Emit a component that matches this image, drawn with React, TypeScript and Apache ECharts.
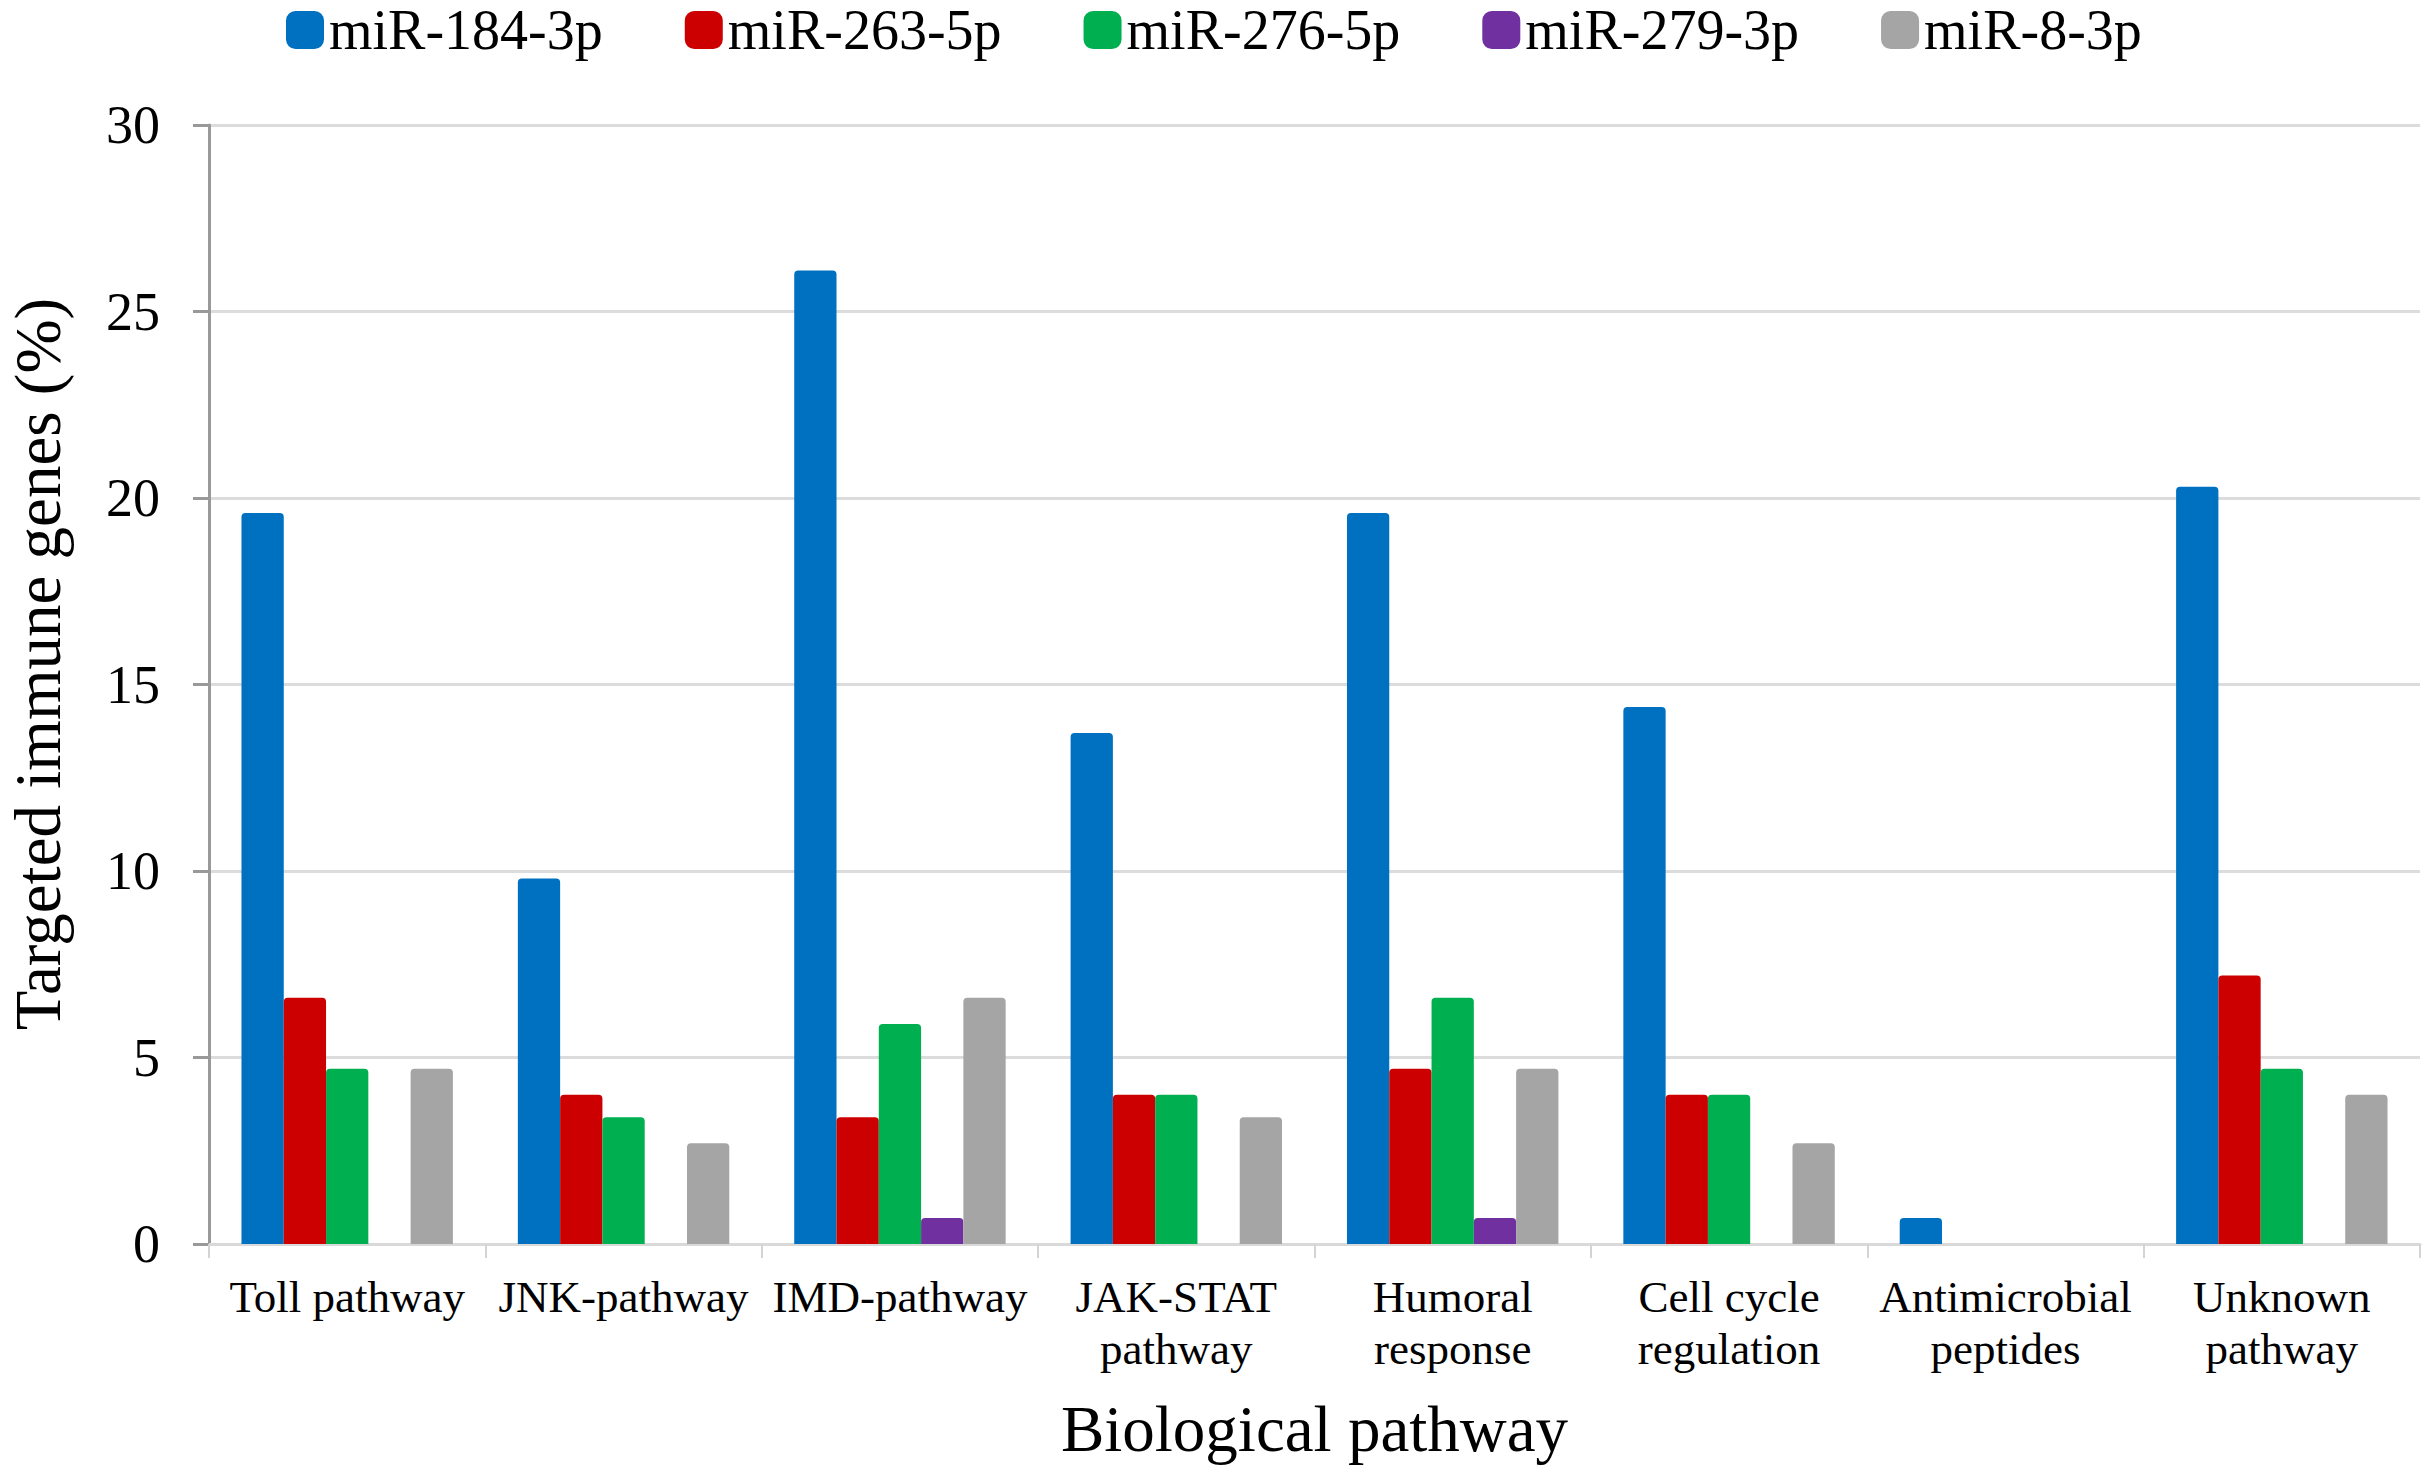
import React, { useEffect, useRef } from "react";
import * as echarts from "echarts";

const categories = [
  "Toll pathway",
  "JNK-pathway",
  "IMD-pathway",
  "JAK-STAT\npathway",
  "Humoral\nresponse",
  "Cell cycle\nregulation",
  "Antimicrobial\npeptides",
  "Unknown\npathway",
];

const seriesNames = ["miR-184-3p", "miR-263-5p", "miR-276-5p", "miR-279-3p", "miR-8-3p"];
const seriesColors = ["#0070C0", "#CC0000", "#00B050", "#7030A0", "#A5A5A5"];

const mir184 = [19.6, 9.8, 26.1, 13.7, 19.6, 14.4, 0.7, 20.3];
const mir263 = [6.6, 4.0, 3.4, 4.0, 4.7, 4.0, 0, 7.2];
const mir276 = [4.7, 3.4, 5.9, 4.0, 6.6, 4.0, 0, 4.7];
const mir279 = [0, 0, 0.7, 0, 0.7, 0, 0, 0];
const mir8 = [4.7, 2.7, 6.6, 3.4, 4.7, 2.7, 0, 4.0];

const seriesValues = [mir184, mir263, mir276, mir279, mir8];

const yTitle = "Targeted immune genes (%)";
const xTitle = "Biological pathway";

const FONT = '"Liberation Serif", "Times New Roman", serif';

export default function App() {
  const ref = useRef<HTMLDivElement>(null);

  useEffect(() => {
    if (!ref.current) return;
    const chart = echarts.init(ref.current, undefined, { renderer: "svg" });
    chart.setOption({
      animation: false,
      backgroundColor: "#ffffff",
      textStyle: { fontFamily: FONT },
      legend: {
        left: 286,
        top: 2,
        padding: 0,
        itemWidth: 38,
        itemHeight: 38,
        itemGap: 82,
        icon: "roundRect",
        textStyle: { fontFamily: FONT, fontSize: 56, lineHeight: 38, color: "#000" },
        data: seriesNames,
      },
      grid: { left: 209, right: 10, top: 125, bottom: 230, containLabel: false },
      xAxis: {
        type: "category",
        data: categories,
        name: xTitle,
        nameLocation: "middle",
        nameGap: 152,
        nameTextStyle: { fontFamily: FONT, fontSize: 65, lineHeight: 65, color: "#000" },
        axisLine: { show: true, lineStyle: { color: "#d9d9d9", width: 3 } },
        axisTick: { show: true, length: 14, lineStyle: { color: "#d4d4d4", width: 2 } },
        axisLabel: {
          interval: 0,
          fontFamily: FONT,
          fontSize: 45,
          lineHeight: 52,
          margin: 27,
          color: "#000",
        },
      },
      yAxis: {
        type: "value",
        min: 0,
        max: 30,
        interval: 5,
        axisLine: { show: true, lineStyle: { color: "#999999", width: 3 } },
        axisTick: { show: true, length: 16, lineStyle: { color: "#999999", width: 3 } },
        axisLabel: { fontFamily: FONT, fontSize: 54, margin: 49, color: "#000" },
        splitLine: { show: true, lineStyle: { color: "#dcdcdc", width: 3 } },
      },
      graphic: [
        {
          type: "text",
          x: 38,
          y: 664,
          rotation: Math.PI / 2,
          style: {
            text: yTitle,
            fontFamily: FONT,
            fontSize: 65,
            lineHeight: 66,
            fill: "#000",
            textAlign: "center",
            textVerticalAlign: "middle",
          },
        },
      ],
      series: seriesNames.map((name, i) => ({
        name,
        type: "bar",
        data: seriesValues[i],
        barGap: "0%",
        barCategoryGap: "23.5%",
        itemStyle: { color: seriesColors[i], borderRadius: [4, 4, 0, 0] },
      })),
    });
    return () => chart.dispose();
  }, []);

  return (
    <div
      ref={ref}
      style={{ position: "absolute", left: 0, top: 0, width: 2430, height: 1474, background: "#fff" }}
    />
  );
}
